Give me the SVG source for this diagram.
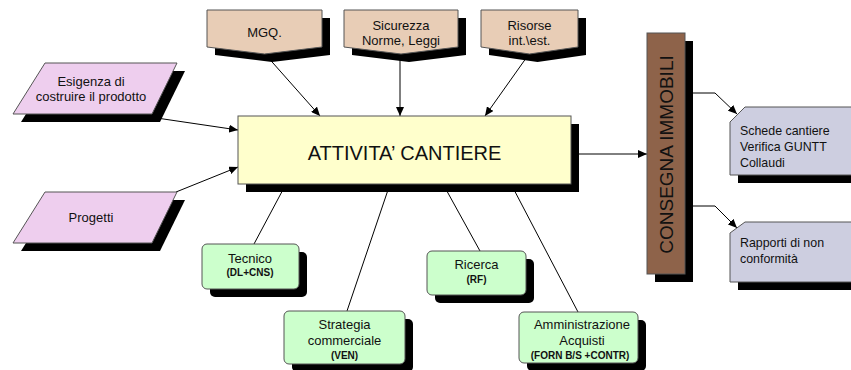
<svg xmlns="http://www.w3.org/2000/svg" width="851" height="370" viewBox="0 0 851 370">
<defs>
<marker id="ah" markerWidth="9" markerHeight="8" refX="9" refY="4" orient="auto" markerUnits="userSpaceOnUse">
<path d="M0,0 L9,4 L0,8 z" fill="#000"/>
</marker>
</defs>
<style>
text{font-family:"Liberation Sans",Arial,sans-serif;fill:#111;}
.t13{font-size:13px;}
.t12{font-size:12.4px;}
.b{font-size:10px;font-weight:bold;}
.sh{fill:#000;}
.ln{stroke:#000;stroke-width:1;fill:none;}
.arr{marker-end:url(#ah);}
.tan{fill:#E8CDB6;stroke:#555;stroke-width:1;}
.pink{fill:#EECEEE;stroke:#555;stroke-width:1;}
.yel{fill:#FFFFCC;stroke:#555;stroke-width:1;}
.grn{fill:#CCFFCC;stroke:#555;stroke-width:1;}
.gry{fill:#CDCEE0;stroke:#555;stroke-width:1;}
.brn{fill:#8E634A;stroke:#555;stroke-width:1;}
</style>

<g id="connectors">
<line class="ln arr" x1="265" y1="54" x2="320" y2="116"/>
<line class="ln arr" x1="400" y1="54" x2="400" y2="116"/>
<line class="ln arr" x1="529" y1="54" x2="485" y2="116"/>
<line class="ln arr" x1="150" y1="117" x2="238" y2="130"/>
<line class="ln arr" x1="176" y1="192" x2="238" y2="167"/>
<line class="ln arr" x1="571" y1="154" x2="647" y2="154"/>
<polyline class="ln arr" points="685,93 715,93 737,114"/>
<polyline class="ln arr" points="685,206 715,206 737,228"/>
<line class="ln" x1="286" y1="184" x2="254" y2="244"/>
<line class="ln" x1="390" y1="184" x2="347" y2="311"/>
<line class="ln" x1="443" y1="184" x2="480" y2="251"/>
<line class="ln" x1="511" y1="184" x2="578" y2="312"/>
</g>

<g id="mgq">
<path class="sh" d="M215,18 H330 V55 L272,62 L215,55 z"/>
<path class="tan" d="M207,10 H322 V47 L264.5,54 L207,47 z"/>
<text class="t13" x="264.5" y="37" text-anchor="middle">MGQ.</text>
</g>
<g id="sicurezza">
<path class="sh" d="M352,18 H466 V55 L409,62 L352,55 z"/>
<path class="tan" d="M344,10 H458 V47 L401,54 L344,47 z"/>
<text class="t13" x="401" y="30" text-anchor="middle">Sicurezza</text>
<text class="t13" x="401" y="45" text-anchor="middle">Norme, Leggi</text>
</g>
<g id="risorse">
<path class="sh" d="M489,18 H586 V55 L537.5,62 L489,55 z"/>
<path class="tan" d="M481,10 H578 V47 L529.5,54 L481,47 z"/>
<text class="t13" x="529.5" y="30" text-anchor="middle">Risorse</text>
<text class="t13" x="529.5" y="45" text-anchor="middle">int.\est.</text>
</g>

<g id="esigenza">
<path class="sh" d="M53,71 H185 L160,122 H21 z"/>
<path class="pink" d="M45,63 H177 L152,114 H13 z"/>
<text class="t13" x="91" y="86" text-anchor="middle">Esigenza di</text>
<text class="t13" x="91" y="101" text-anchor="middle">costruire il prodotto</text>
</g>
<g id="progetti">
<path class="sh" d="M53,200 H185 L160,251 H21 z"/>
<path class="pink" d="M45,192 H177 L152,243 H13 z"/>
<text class="t13" x="91" y="222" text-anchor="middle">Progetti</text>
</g>

<g id="attivita">
<rect class="sh" x="246" y="124" width="333" height="68"/>
<rect class="yel" x="238" y="116" width="333" height="68"/>
<text x="404.5" y="160" text-anchor="middle" style="font-size:20px">ATTIVITA’ CANTIERE</text>
</g>

<g id="consegna">
<rect class="sh" x="655" y="41" width="38" height="241"/>
<rect class="brn" x="647" y="33" width="38" height="241"/>
<text transform="translate(673,154.5) rotate(-90)" text-anchor="middle" style="font-size:19px">CONSEGNA IMMOBILI</text>
</g>

<g id="schede">
<path class="sh" d="M738,130 V183 H863 V130 z"/>
<path class="gry" d="M745,107 H860 V175 H730 V122 z"/>
<text class="t12" x="740" y="135">Schede cantiere</text>
<text class="t12" x="740" y="151">Verifica GUNTT</text>
<text class="t12" x="740" y="167">Collaudi</text>
</g>
<g id="rapporti">
<path class="sh" d="M738,241 V290 H863 V241 z"/>
<path class="gry" d="M745,222 H860 V282 H730 V233 z"/>
<text class="t12" x="740" y="247">Rapporti di non</text>
<text class="t12" x="740" y="263">conformità</text>
</g>

<g id="tecnico">
<rect class="sh" x="210" y="252" width="97" height="45" rx="5"/>
<rect class="grn" x="202" y="244" width="97" height="45" rx="5"/>
<text class="t13" x="250" y="263" text-anchor="middle">Tecnico</text>
<text class="b" x="250" y="276" text-anchor="middle">(DL+CNS)</text>
</g>
<g id="strategia">
<rect class="sh" x="292" y="319" width="121" height="53" rx="5"/>
<rect class="grn" x="284" y="311" width="121" height="53" rx="5"/>
<text class="t13" x="344.5" y="329" text-anchor="middle">Strategia</text>
<text class="t13" x="344.5" y="345" text-anchor="middle">commerciale</text>
<text class="b" x="344.5" y="359" text-anchor="middle">(VEN)</text>
</g>
<g id="ricerca">
<rect class="sh" x="435" y="259" width="99" height="44" rx="5"/>
<rect class="grn" x="427" y="251" width="99" height="44" rx="5"/>
<text class="t13" x="476.5" y="269" text-anchor="middle">Ricerca</text>
<text class="b" x="476.5" y="283" text-anchor="middle">(RF)</text>
</g>
<g id="amministrazione">
<rect class="sh" x="527" y="320" width="119" height="51" rx="5"/>
<rect class="grn" x="519" y="312" width="119" height="51" rx="5"/>
<text class="t13" x="582" y="329" text-anchor="middle">Amministrazione</text>
<text class="t13" x="582" y="345" text-anchor="middle">Acquisti</text>
<text class="b" x="580" y="359" text-anchor="middle">(FORN B/S +CONTR)</text>
</g>
</svg>
